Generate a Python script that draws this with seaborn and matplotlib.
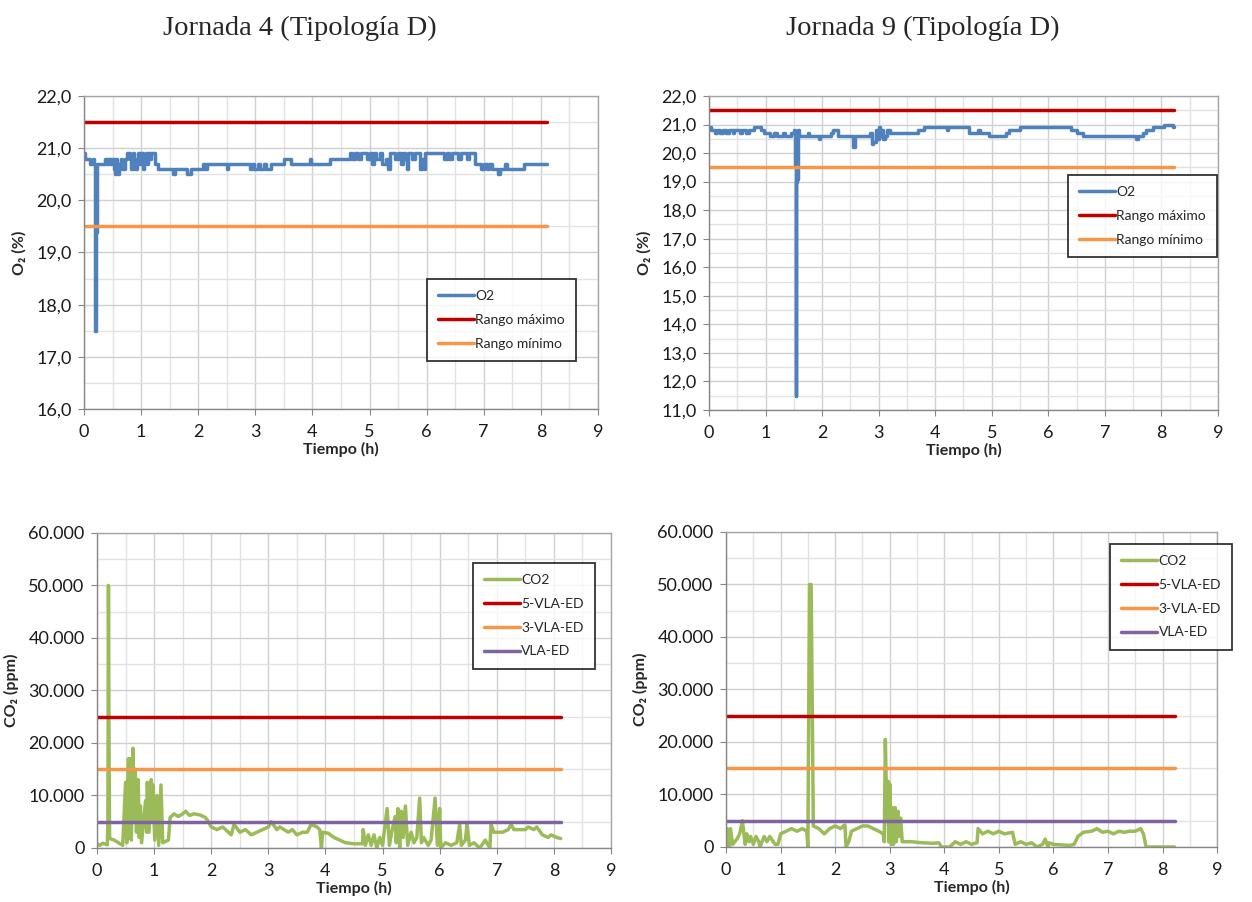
import matplotlib
matplotlib.use("Agg")
import matplotlib.pyplot as plt
import seaborn as sns
from matplotlib.ticker import MultipleLocator, FuncFormatter

# Datos (tiempo en horas)
o2_j4_t = [0.00, 0.02, 0.10, 0.16, 0.17, 0.19, 0.20, 0.21, 0.22, 0.36, 0.40, 0.42, 0.46, 0.48,
           0.52, 0.54, 0.56, 0.58, 0.60, 0.62, 0.64, 0.66, 0.68, 0.70, 0.72, 0.75, 0.80, 0.83,
           0.86, 0.88, 0.90, 0.93, 0.95, 0.98, 1.00, 1.03, 1.05, 1.08, 1.10, 1.12, 1.16, 1.18,
           1.24, 1.30, 1.55, 1.60, 1.80, 1.88, 2.08, 2.12, 2.16, 2.50, 2.52, 2.90, 2.95, 2.98,
           3.05, 3.08, 3.15, 3.18, 3.28, 3.50, 3.62, 3.95, 3.97, 4.30, 4.65, 4.70, 4.75, 4.80,
           4.85, 4.95, 5.00, 5.05, 5.08, 5.12, 5.18, 5.22, 5.28, 5.32, 5.35, 5.45, 5.50, 5.55,
           5.58, 5.62, 5.65, 5.67, 5.75, 5.80, 5.88, 5.92, 5.95, 5.98, 6.30, 6.35, 6.40, 6.45,
           6.55, 6.60, 6.70, 6.75, 6.85, 6.95, 7.00, 7.05, 7.10, 7.15, 7.25, 7.28, 7.38, 7.40,
           7.70, 8.10]
o2_j4_v = [20.9, 20.8, 20.7, 20.8, 20.7, 19.3, 17.5, 19.4, 20.7, 20.8, 20.7, 20.8, 20.7, 20.8,
           20.6, 20.5, 20.8, 20.6, 20.5, 20.7, 20.8, 20.6, 20.7, 20.6, 20.8, 20.9, 20.8, 20.6,
           20.9, 20.7, 20.6, 20.8, 20.9, 20.7, 20.9, 20.6, 20.8, 20.9, 20.7, 20.9, 20.8, 20.9,
           20.7, 20.6, 20.5, 20.6, 20.5, 20.6, 20.7, 20.6, 20.7, 20.6, 20.7, 20.6, 20.7, 20.6,
           20.7, 20.6, 20.7, 20.6, 20.7, 20.8, 20.7, 20.8, 20.7, 20.8, 20.9, 20.8, 20.9, 20.8,
           20.9, 20.8, 20.9, 20.7, 20.9, 20.8, 20.9, 20.7, 20.8, 20.6, 20.9, 20.8, 20.9, 20.7,
           20.9, 20.8, 20.6, 20.9, 20.8, 20.9, 20.6, 20.8, 20.6, 20.9, 20.8, 20.9, 20.8, 20.9,
           20.8, 20.9, 20.8, 20.9, 20.7, 20.6, 20.7, 20.6, 20.7, 20.6, 20.5, 20.6, 20.7, 20.6,
           20.7, 20.7]

o2_j9_t = [0.00, 0.03, 0.10, 0.15, 0.20, 0.25, 0.30, 0.35, 0.42, 0.45, 0.55, 0.58, 0.65, 0.70,
           0.80, 0.92, 0.97, 1.08, 1.15, 1.20, 1.30, 1.35, 1.45, 1.50, 1.52, 1.53, 1.545, 1.56,
           1.57, 1.60, 1.75, 1.77, 1.95, 1.97, 2.15, 2.20, 2.28, 2.55, 2.58, 2.85, 2.88, 2.90,
           2.95, 2.98, 3.00, 3.02, 3.05, 3.08, 3.12, 3.15, 3.20, 3.70, 3.80, 4.20, 4.22, 4.60,
           4.75, 4.80, 4.95, 5.25, 5.30, 5.50, 6.40, 6.50, 6.62, 7.55, 7.58, 7.68, 7.72, 7.85,
           8.05, 8.20, 8.22]
o2_j9_v = [20.9, 20.8, 20.7, 20.8, 20.7, 20.8, 20.7, 20.8, 20.7, 20.8, 20.7, 20.8, 20.7, 20.8,
           20.9, 20.8, 20.7, 20.6, 20.7, 20.6, 20.7, 20.6, 20.7, 20.8, 19.5, 11.5, 19.0, 19.1,
           20.8, 20.6, 20.7, 20.6, 20.5, 20.6, 20.7, 20.8, 20.6, 20.2, 20.6, 20.7, 20.3, 20.4,
           20.8, 20.5, 20.9, 20.6, 20.8, 20.5, 20.6, 20.8, 20.7, 20.8, 20.9, 20.8, 20.9, 20.7,
           20.8, 20.7, 20.6, 20.7, 20.8, 20.9, 20.8, 20.7, 20.6, 20.5, 20.6, 20.7, 20.8, 20.9,
           21.0, 20.9, 20.9]

co2_j4_t = [0.00, 0.05, 0.10, 0.18, 0.19, 0.20, 0.21, 0.22, 0.30, 0.45, 0.50, 0.52, 0.55, 0.56,
            0.58, 0.60, 0.63, 0.65, 0.67, 0.69, 0.72, 0.74, 0.76, 0.78, 0.85, 0.87, 0.88, 0.91,
            0.95, 0.96, 0.98, 1.01, 1.05, 1.08, 1.12, 1.15, 1.25, 1.28, 1.35, 1.42, 1.50, 1.55,
            1.62, 1.70, 1.80, 1.90, 1.95, 2.00, 2.10, 2.20, 2.30, 2.35, 2.40, 2.50, 2.60, 2.70,
            2.80, 2.90, 3.00, 3.05, 3.15, 3.20, 3.35, 3.42, 3.50, 3.60, 3.68, 3.75, 3.85, 3.90,
            3.93, 3.95, 4.05, 4.15, 4.25, 4.35, 4.50, 4.65, 4.66, 4.70, 4.75, 4.80, 4.85, 4.90,
            4.95, 5.00, 5.08, 5.12, 5.16, 5.22, 5.24, 5.27, 5.30, 5.33, 5.36, 5.40, 5.44, 5.50,
            5.55, 5.60, 5.65, 5.68, 5.72, 5.80, 5.85, 5.92, 5.96, 6.00, 6.02, 6.10, 6.20, 6.30,
            6.35, 6.38, 6.45, 6.48, 6.52, 6.60, 6.70, 6.80, 6.85, 6.88, 6.90, 6.95, 7.10, 7.20,
            7.25, 7.30, 7.40, 7.50, 7.55, 7.65, 7.70, 7.80, 7.90, 7.95, 8.05, 8.12]
co2_j4_v = [800, 500, 900, 600, 5000, 50000, 20000, 1800, 1500, 500, 12500, 1000, 17000, 2000,
            17000, 1500, 19000, 5000, 15000, 3000, 13000, 2000, 8000, 1000, 9000, 3000, 12500, 3000,
            13000, 5000, 12000, 1500, 10000, 500, 12000, 1000, 1500, 5800, 6500, 6000, 6500, 7000,
            6200, 6500, 6300, 5800, 5000, 4000, 3500, 4000, 3000, 2500, 4500, 3000, 3500, 2500,
            3000, 3500, 4000, 5000, 3500, 4000, 3000, 3500, 2500, 3000, 3000, 4500, 4000, 3500,
            0, 3000, 2800, 2000, 1500, 1000, 800, 800, 3500, 500, 2500, 500, 2500, 0,
            2000, 500, 7500, 500, 3000, 6000, 1000, 7500, 0, 7000, 2000, 8000, 500, 3000,
            1000, 2000, 9500, 1000, 2000, 500, 1500, 9500, 500, 7500, 0, 1000, 500, 1000,
            4500, 500, 1500, 4500, 500, 1000, 0, 1500, 500, 0, 4500, 3000, 3000, 3500,
            4500, 3500, 3500, 3500, 4000, 3500, 4000, 2500, 2000, 2500, 2000, 1800]

co2_j9_t = [0.00, 0.02, 0.06, 0.08, 0.12, 0.20, 0.25, 0.30, 0.35, 0.38, 0.42, 0.45, 0.50, 0.55,
            0.60, 0.62, 0.70, 0.75, 0.80, 0.90, 0.95, 1.00, 1.10, 1.20, 1.30, 1.40, 1.48, 1.50,
            1.53, 1.56, 1.60, 1.70, 1.80, 1.90, 2.00, 2.10, 2.15, 2.18, 2.20, 2.25, 2.30, 2.40,
            2.50, 2.60, 2.70, 2.80, 2.88, 2.90, 2.92, 2.95, 2.97, 2.98, 3.00, 3.03, 3.05, 3.07,
            3.10, 3.12, 3.15, 3.17, 3.20, 3.23, 3.40, 3.60, 3.80, 3.90, 3.95, 4.10, 4.20, 4.30,
            4.40, 4.50, 4.60, 4.62, 4.70, 4.80, 4.90, 5.00, 5.10, 5.25, 5.30, 5.40, 5.50, 5.60,
            5.70, 5.80, 5.85, 5.90, 5.92, 6.00, 6.30, 6.38, 6.45, 6.55, 6.70, 6.80, 6.90, 7.00,
            7.10, 7.20, 7.30, 7.40, 7.50, 7.60, 7.65, 7.70, 8.22]
co2_j9_v = [0, 3500, 0, 3500, 500, 1500, 2500, 5000, 500, 2500, 1000, 2000, 500, 2000,
            1000, 0, 2000, 1000, 2000, 500, 500, 2500, 3000, 3500, 3000, 3500, 3000, 0,
            50000, 50000, 4000, 3500, 2500, 3500, 4000, 3500, 4000, 4200, 0, 1000, 3000, 3500,
            4000, 4000, 3500, 3000, 2500, 1000, 20500, 5000, 12500, 1000, 12000, 500, 7500, 500,
            7500, 1000, 6800, 2000, 5500, 1000, 1000, 800, 700, 800, 0, 0, 1000, 500,
            1000, 500, 800, 3500, 2500, 3000, 2500, 3000, 2500, 2800, 500, 1000, 500, 800,
            0, 500, 1500, 0, 800, 500, 300, 500, 2000, 2800, 3000, 3500, 2800, 3000,
            2500, 3000, 2800, 3000, 3000, 3500, 2500, 0, 0]

titulos = ["Jornada 4 (Tipología D)", "Jornada 9 (Tipología D)"]
fin_j4_o2, fin_j9_o2 = 8.1, 8.22
fin_j4_co2, fin_j9_co2 = 8.12, 8.22
o2_max, o2_min = 21.5, 19.5
vla5, vla3, vla = 25000, 15000, 5000

azul, rojo, naranja, verde, morado = "#4F81BD", "#C00000", "#F79646", "#9BBB59", "#8064A2"

sns.set_style("white")
plt.rcParams["font.family"] = ["Lato", "DejaVu Sans"]

fig = plt.figure(figsize=(12.52, 9.02), dpi=100)
ax1 = fig.add_axes([0.0671, 0.5466, 0.4105, 0.3470])
ax2 = fig.add_axes([0.5663, 0.5455, 0.4065, 0.3481])
ax3 = fig.add_axes([0.0775, 0.0599, 0.4105, 0.3492])
ax4 = fig.add_axes([0.5799, 0.0610, 0.3922, 0.3492])


def coma(v, pos):
    return f"{v:.1f}".replace(".", ",")


def miles(v, pos):
    return f"{int(round(v)):,}".replace(",", ".")


def estilo(ax, ymin, ymax, ymaj, ymin_step, fmt, ylabel):
    ax.set_xlim(0, 9)
    ax.set_ylim(ymin, ymax)
    ax.xaxis.set_major_locator(MultipleLocator(1))
    ax.xaxis.set_minor_locator(MultipleLocator(0.5))
    ax.yaxis.set_major_locator(MultipleLocator(ymaj))
    ax.yaxis.set_minor_locator(MultipleLocator(ymin_step))
    ax.yaxis.set_major_formatter(FuncFormatter(fmt))
    ax.grid(True, which="major", color="#D0D0D0", linewidth=1.0)
    ax.grid(True, which="minor", color="#E2E2E2", linewidth=1.0)
    ax.set_axisbelow(True)
    for s in ax.spines.values():
        s.set_color("#A6A6A6")
        s.set_linewidth(1.0)
    ax.spines["left"].set_color("#868686")
    ax.spines["bottom"].set_color("#868686")
    ax.tick_params(which="major", direction="out", length=4, color="#868686",
                   labelsize=13, labelcolor="#1a1a1a", left=True, bottom=True)
    ax.tick_params(axis="x", which="major", pad=7)
    ax.tick_params(axis="y", which="major", pad=5)
    ax.tick_params(which="minor", length=0)
    ax.set_xlabel("Tiempo (h)", fontsize=11.5, fontweight="bold", labelpad=1)
    ax.set_ylabel(ylabel, fontsize=11.5, fontweight="bold", labelpad=7)


def leyenda(ax, x, y):
    leg = ax.legend(loc="upper left", bbox_to_anchor=(x, y), frameon=True, fancybox=False,
                    fontsize=10, handlelength=2.6, handletextpad=0.1, labelspacing=0.85,
                    borderpad=0.8, borderaxespad=0)
    leg.get_frame().set_edgecolor("black")
    leg.get_frame().set_linewidth(1.3)


lw = 2.5

# O2 Jornada 4
sns.lineplot(x=o2_j4_t, y=o2_j4_v, ax=ax1, color=azul, linewidth=lw, label="O2",
             estimator=None, sort=False, drawstyle="steps-post")
sns.lineplot(x=[0, fin_j4_o2], y=[o2_max, o2_max], ax=ax1, color=rojo, linewidth=lw, label="Rango máximo")
sns.lineplot(x=[0, fin_j4_o2], y=[o2_min, o2_min], ax=ax1, color=naranja, linewidth=lw, label="Rango mínimo")
estilo(ax1, 16, 22, 1, 0.5, coma, "O₂ (%)")
leyenda(ax1, 0.667, 0.415)

# O2 Jornada 9
sns.lineplot(x=o2_j9_t, y=o2_j9_v, ax=ax2, color=azul, linewidth=lw, label="O2",
             estimator=None, sort=False, drawstyle="steps-post")
sns.lineplot(x=[0, fin_j9_o2], y=[o2_max, o2_max], ax=ax2, color=rojo, linewidth=lw, label="Rango máximo")
sns.lineplot(x=[0, fin_j9_o2], y=[o2_min, o2_min], ax=ax2, color=naranja, linewidth=lw, label="Rango mínimo")
estilo(ax2, 11, 22, 1, 0.5, coma, "O₂ (%)")
leyenda(ax2, 0.705, 0.748)

# CO2 Jornada 4
sns.lineplot(x=co2_j4_t, y=co2_j4_v, ax=ax3, color=verde, linewidth=lw, label="CO2",
             estimator=None, sort=False)
sns.lineplot(x=[0, fin_j4_co2], y=[vla5, vla5], ax=ax3, color=rojo, linewidth=lw, label="5-VLA-ED")
sns.lineplot(x=[0, fin_j4_co2], y=[vla3, vla3], ax=ax3, color=naranja, linewidth=lw, label="3-VLA-ED")
sns.lineplot(x=[0, fin_j4_co2], y=[vla, vla], ax=ax3, color=morado, linewidth=lw, label="VLA-ED")
estilo(ax3, 0, 60000, 10000, 5000, miles, "CO₂ (ppm)")
leyenda(ax3, 0.731, 0.905)

# CO2 Jornada 9
sns.lineplot(x=co2_j9_t, y=co2_j9_v, ax=ax4, color=verde, linewidth=lw, label="CO2",
             estimator=None, sort=False)
sns.lineplot(x=[0, fin_j9_co2], y=[vla5, vla5], ax=ax4, color=rojo, linewidth=lw, label="5-VLA-ED")
sns.lineplot(x=[0, fin_j9_co2], y=[vla3, vla3], ax=ax4, color=naranja, linewidth=lw, label="3-VLA-ED")
sns.lineplot(x=[0, fin_j9_co2], y=[vla, vla], ax=ax4, color=morado, linewidth=lw, label="VLA-ED")
estilo(ax4, 0, 60000, 10000, 5000, miles, "CO₂ (ppm)")
leyenda(ax4, 0.782, 0.962)

fig.text(0.2396, 0.969, titulos[0], ha="center", va="center", fontsize=20.5,
         family=["Liberation Serif", "DejaVu Serif"])
fig.text(0.737, 0.969, titulos[1], ha="center", va="center", fontsize=20.5,
         family=["Liberation Serif", "DejaVu Serif"])

fig.savefig("out.png", dpi=100, facecolor="white")
